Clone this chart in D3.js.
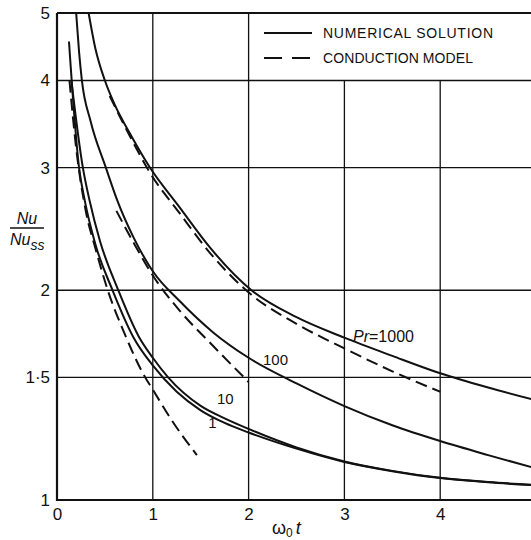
<!DOCTYPE html>
<html><head><meta charset="utf-8">
<script src="https://cdn.jsdelivr.net/npm/d3@7"></script>
<style>body{margin:0;background:#fff}svg{display:block}</style>
</head><body>
<script>
// ---- data ----
const xTicks = [0, 1, 2, 3, 4, 5];
const yTicks = [1, 1.5, 2, 3, 4, 5];
const yTickLabels = ["1", "1·5", "2", "3", "4", "5"];

const pr1_x = [0.125,0.23,0.29,0.4,0.58,0.8,1.0,1.25,1.5,1.75,2.0,2.5,3.0,3.5,4.0,4.5,5.0];
const pr1_y = [4.55,3.0,2.69,2.33,2.0,1.71,1.56,1.43,1.345,1.29,1.25,1.185,1.134,1.1,1.075,1.06,1.05];
const pr10_x = [0.15,0.27,0.34,0.45,0.64,0.85,1.0,1.16,1.5,1.75,2.0,2.5,3.0,3.5,4.0,4.5,5.0];
const pr10_y = [4.0,3.0,2.69,2.35,2.0,1.72,1.6,1.5,1.365,1.31,1.265,1.19,1.136,1.101,1.076,1.061,1.051];
const pr100_x = [0.2,0.23,0.26,0.35,0.51,0.63,0.8,1.0,1.28,1.63,2.0,2.5,3.0,3.5,4.0,4.5,5.0];
const pr100_y = [5.0,4.4,4.0,3.5,3.0,2.69,2.38,2.13,1.93,1.74,1.60,1.47,1.364,1.28,1.215,1.16,1.11];
const pr1000_x = [0.33,0.4,0.5,0.6,0.76,0.97,1.28,1.6,2.03,2.5,3.0,3.5,4.0,4.5,5.0];
const pr1000_y = [5.0,4.45,4.0,3.7,3.36,3.0,2.63,2.3,2.0,1.83,1.71,1.61,1.52,1.45,1.39];

const cond1_x = [0.13,0.2,0.3,0.4,0.53,0.7,0.92,1.0,1.2,1.46];
const cond1_y = [4.0,3.2,2.6,2.3,2.0,1.74,1.5,1.44,1.3,1.16];
const cond100_x = [0.62,0.8,1.0,1.28,1.6,2.0];
const cond100_y = [2.6,2.34,2.1,1.87,1.68,1.477];
const cond1000_x = [0.55,0.76,0.97,1.28,1.6,2.03,2.5,3.0,3.5,4.0];
const cond1000_y = [3.8,3.33,2.95,2.58,2.26,1.97,1.79,1.65,1.53,1.43];

const curveLabels = ["1", "10", "100"];
const curveLabelPos = [[1.58, 1.27], [1.67, 1.373], [2.15, 1.56]];
const legendLabels = ["NUMERICAL SOLUTION", "CONDUCTION MODEL"];

// ---- chart ----
const W = 531, H = 540;
const svg = d3.select("body").append("svg").attr("width", W).attr("height", H);
const x = d3.scaleLinear().domain([0, 5]).range([57, 536]);
const y = d3.scaleLog().domain([1, 5]).range([500, 13]);
const font = "'Liberation Sans', Arial, sans-serif";

// gridlines
const g = svg.append("g").attr("stroke", "#111").attr("stroke-width", 1.3);
g.selectAll("line.h").data(yTicks.slice(1)).join("line")
  .attr("x1", x(0)).attr("x2", x(5)).attr("y1", d => y(d)).attr("y2", d => y(d))
  .attr("stroke-width", d => d === 5 ? 2 : 1.3);
g.selectAll("line.v").data(xTicks.slice(1)).join("line")
  .attr("x1", d => x(d)).attr("x2", d => x(d))
  .attr("y1", y(1)).attr("y2", d => d <= 2 ? y(5) : y(4));

// axes frame
svg.append("line").attr("x1", x(0)).attr("x2", x(0)).attr("y1", y(1)+1).attr("y2", y(5))
  .attr("stroke", "#111").attr("stroke-width", 2.2);
svg.append("line").attr("x1", x(0)-1).attr("x2", x(5)).attr("y1", y(1)).attr("y2", y(1))
  .attr("stroke", "#111").attr("stroke-width", 2.2);

// tick labels
const xAxis = d3.axisBottom(x).tickValues(xTicks).tickSize(0).tickPadding(8).tickFormat(d3.format("d"));
const xa = svg.append("g").attr("transform", `translate(0,${y(1)})`).call(xAxis);
xa.select(".domain").remove();
xa.selectAll("text").attr("font-family", font).attr("font-size", 17).attr("fill", "#111");

const yAxis = d3.axisLeft(y).tickValues(yTicks).tickSize(0).tickPadding(7).tickFormat((d, i) => yTickLabels[i]);
const ya = svg.append("g").attr("transform", `translate(${x(0)},0)`).call(yAxis);
ya.select(".domain").remove();
ya.selectAll("text").attr("font-family", font).attr("font-size", 17).attr("fill", "#111");

// curves
const line = d3.line().x(d => x(d[0])).y(d => y(d[1])).curve(d3.curveMonotoneX);
const solids = [[pr1_x, pr1_y], [pr10_x, pr10_y], [pr100_x, pr100_y], [pr1000_x, pr1000_y]];
const dashes = [[cond1_x, cond1_y], [cond100_x, cond100_y], [cond1000_x, cond1000_y]];
svg.selectAll("path.s").data(solids).join("path")
  .attr("d", s => line(d3.zip(s[0], s[1])))
  .attr("fill", "none").attr("stroke", "#111").attr("stroke-width", 2);
svg.selectAll("path.d").data(dashes).join("path")
  .attr("d", s => line(d3.zip(s[0], s[1])))
  .attr("fill", "none").attr("stroke", "#111").attr("stroke-width", 2)
  .attr("stroke-dasharray", "12,6");

// curve labels
svg.selectAll("text.cl").data(curveLabels).join("text")
  .attr("x", (d, i) => x(curveLabelPos[i][0])).attr("y", (d, i) => y(curveLabelPos[i][1]))
  .attr("font-family", font).attr("font-size", 15).attr("fill", "#111").text(d => d);
const prT = svg.append("text").attr("x", 353).attr("y", 342)
  .attr("font-family", font).attr("font-size", 16).attr("fill", "#111");
prT.append("tspan").attr("font-style", "italic").text("Pr");
prT.append("tspan").text("=1000");

// legend
const leg = svg.append("g");
leg.append("line").attr("x1", 264).attr("x2", 312).attr("y1", 33).attr("y2", 33)
  .attr("stroke", "#111").attr("stroke-width", 2);
leg.append("line").attr("x1", 264).attr("x2", 312).attr("y1", 58).attr("y2", 58)
  .attr("stroke", "#111").attr("stroke-width", 2).attr("stroke-dasharray", "18,10");
leg.selectAll("text").data(legendLabels).join("text")
  .attr("x", 323).attr("y", (d, i) => 38 + i * 25)
  .attr("font-family", font).attr("font-size", 14).attr("fill", "#111")
  .attr("textLength", (d, i) => i === 0 ? 170 : 150).attr("lengthAdjust", "spacing")
  .text(d => d);

// y-axis title
const yt = svg.append("g").attr("font-family", font).attr("fill", "#111");
yt.append("text").attr("x", 27).attr("y", 224).attr("text-anchor", "middle")
  .attr("font-size", 16).attr("font-style", "italic").text("Nu");
yt.append("line").attr("x1", 10).attr("x2", 44).attr("y1", 228).attr("y2", 228)
  .attr("stroke", "#111").attr("stroke-width", 1.5);
const yb = yt.append("text").attr("x", 10).attr("y", 245).attr("font-size", 16).attr("font-style", "italic");
yb.append("tspan").text("Nu");
yb.append("tspan").attr("dy", 5).attr("font-size", 14).text("ss");

// x-axis title
const xt = svg.append("text").attr("x", 272).attr("y", 534).attr("font-family", font).attr("font-size", 18).attr("fill", "#111");
xt.append("tspan").text("ω");
xt.append("tspan").attr("dy", 3).attr("font-size", 12).text("0");
xt.append("tspan").attr("dy", -3).attr("dx", 3).attr("font-style", "italic").text("t");
</script>
</body></html>
